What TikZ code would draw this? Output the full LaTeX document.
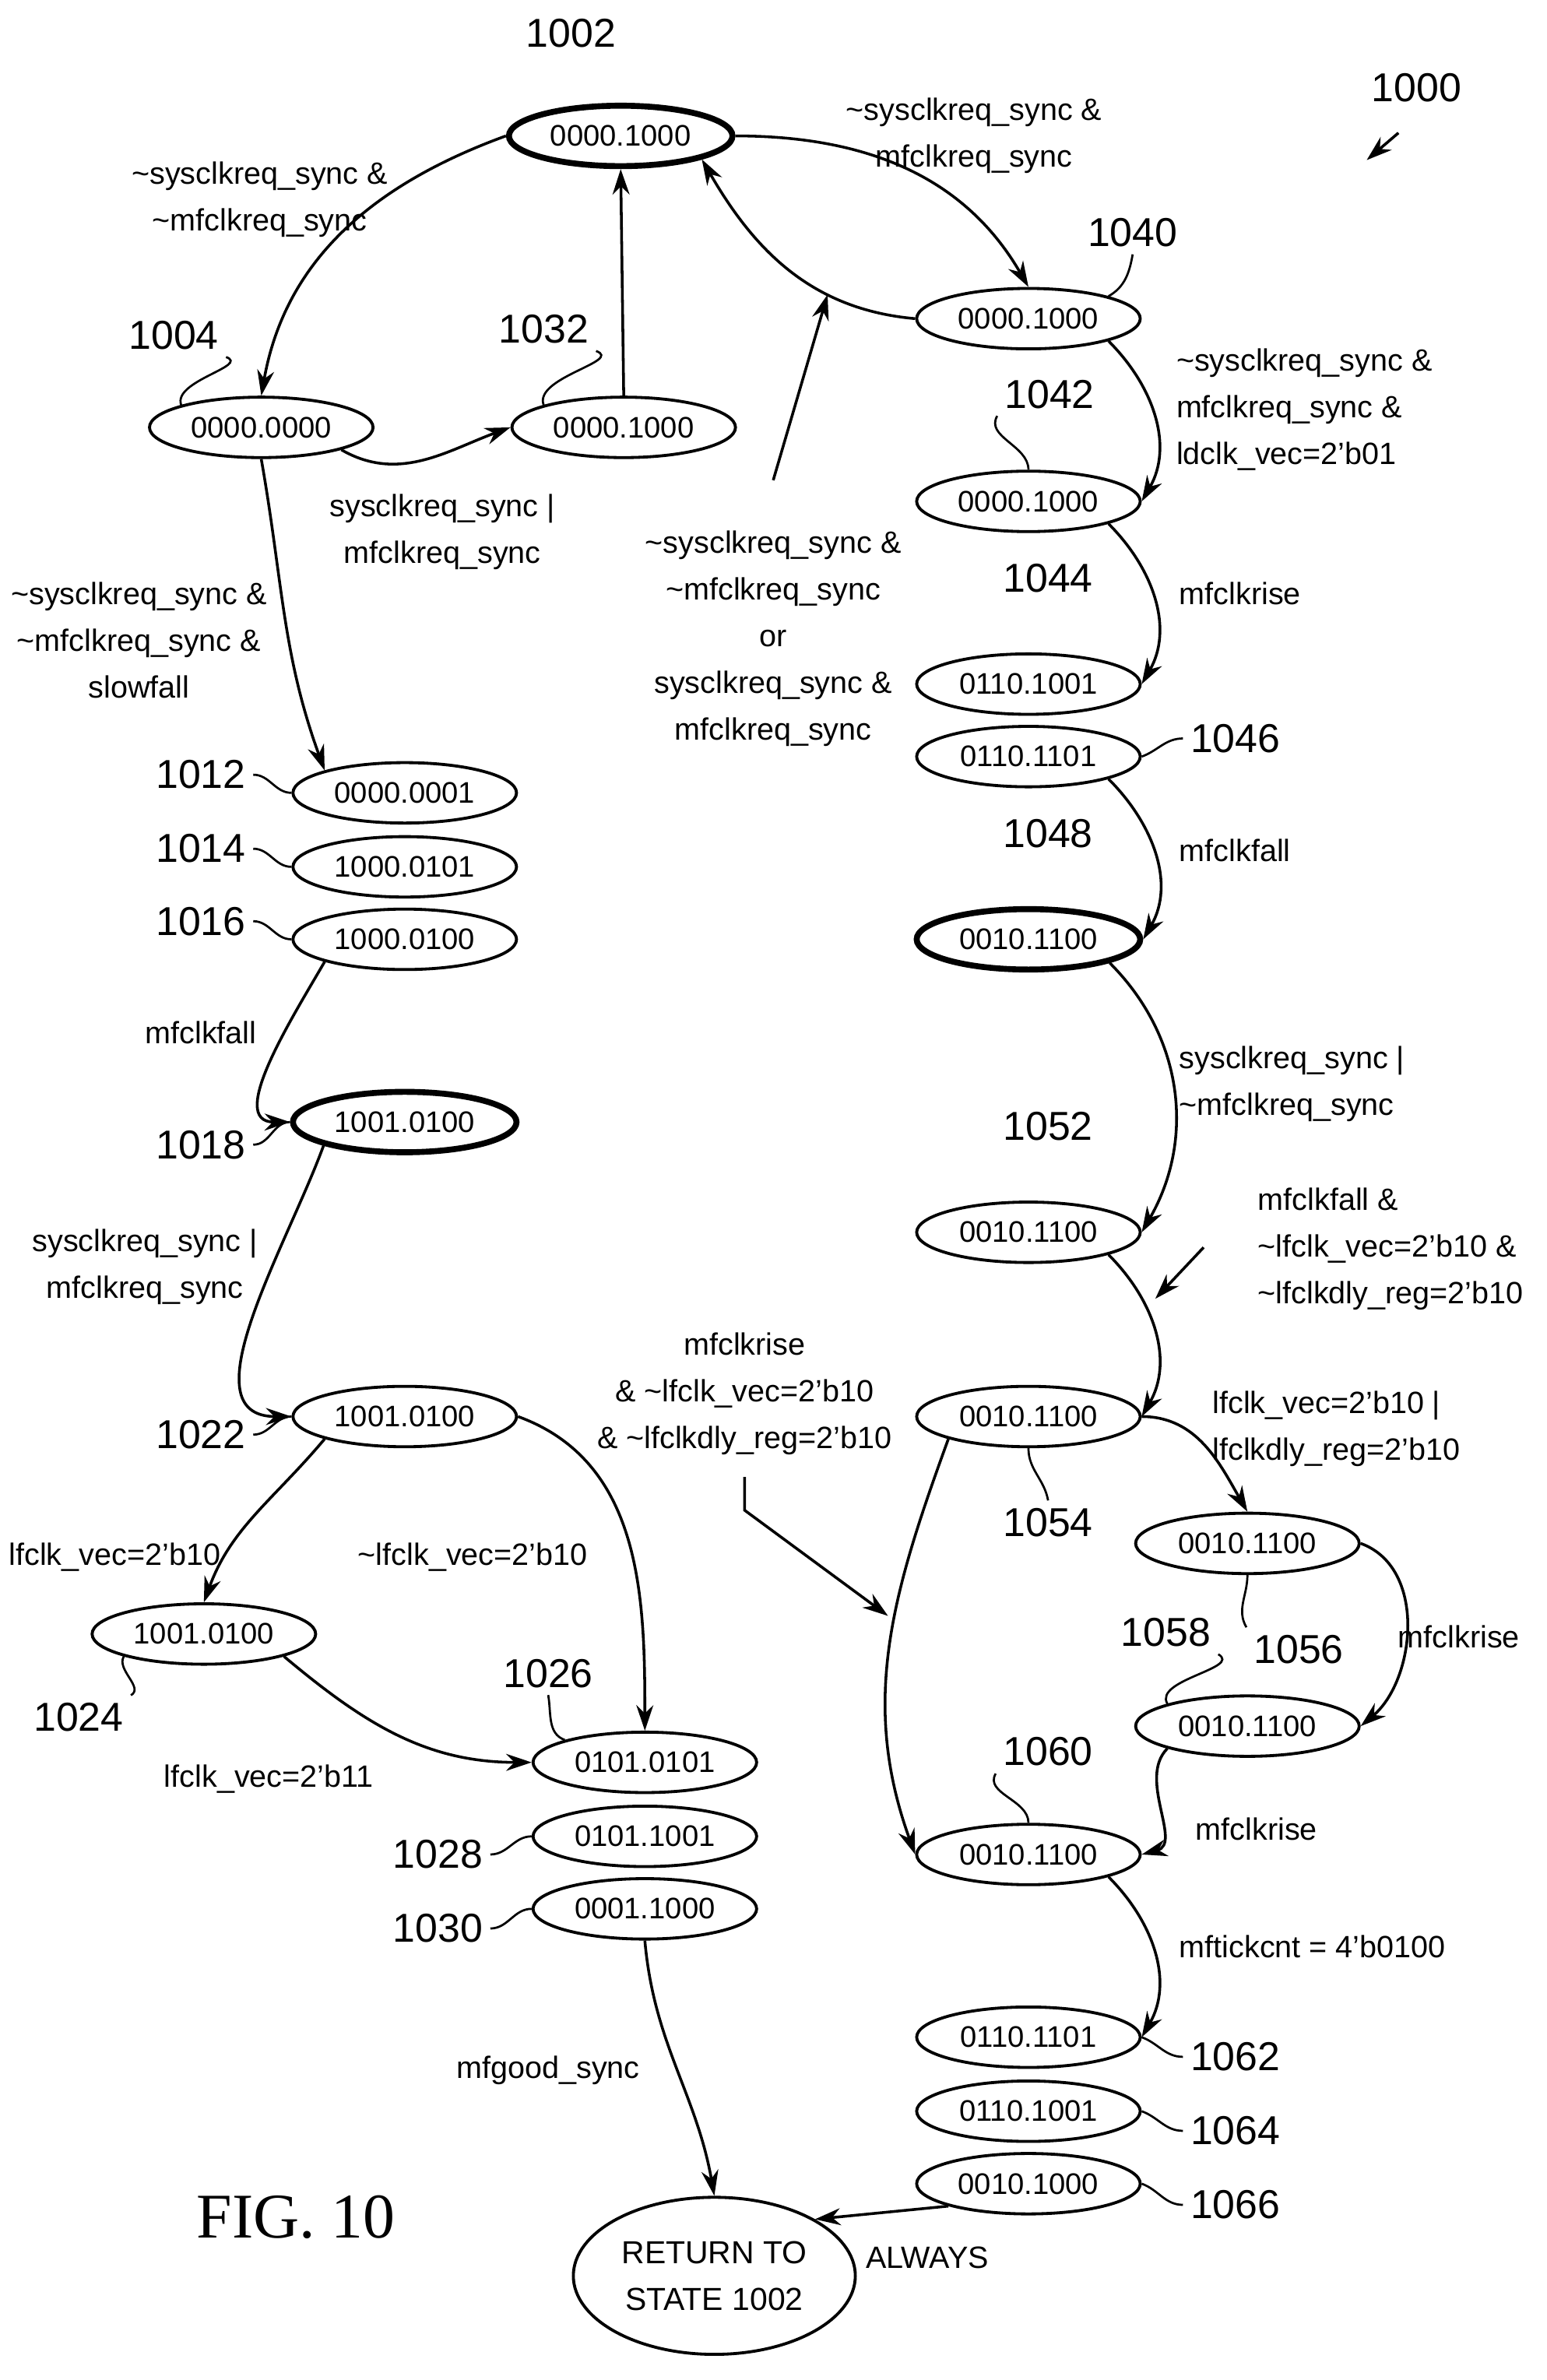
\documentclass[tikz,border=0pt]{standalone}
\usepackage{fontspec}
\setmainfont{Liberation Sans}
\newfontfamily\figfont{Liberation Serif}
\usetikzlibrary{shapes.geometric,arrows.meta}
\begin{document}
\begin{tikzpicture}[x=0.025cm,y=-0.025cm,
 st/.style={ellipse,draw,line width=1.4pt,minimum width=3.7cm,minimum height=1cm,inner sep=0pt,font=\fontsize{14}{14}\selectfont},
 thk/.style={line width=2.8pt},
 lb/.style={font=\fontsize{14.5}{22}\selectfont,align=center},
 ll/.style={font=\fontsize{14.5}{22}\selectfont,align=left,anchor=west},
 num/.style={font=\fontsize{19}{19}\selectfont},
 ar/.style={draw,line width=1.3pt,-{Stealth[length=12pt,width=8pt]}},
 ld/.style={draw,line width=1pt}]
\useasboundingbox (0,0) rectangle (1024,1576);
\node[st,thk] (n1002) at (411,90) {0000.1000};
\node[st] (n1004) at (173,283) {0000.0000};
\node[st] (n1032) at (413,283) {0000.1000};
\node[st] (n1040) at (681,211) {0000.1000};
\node[st] (n1042) at (681,332) {0000.1000};
\node[st] (n1044) at (681,453) {0110.1001};
\node[st] (n1046) at (681,501) {0110.1101};
\node[st,thk] (n1048) at (681,622) {0010.1100};
\node[st] (n1052) at (681,816) {0010.1100};
\node[st] (n1054) at (681,938) {0010.1100};
\node[st] (n1056) at (826,1022) {0010.1100};
\node[st] (n1058) at (826,1143) {0010.1100};
\node[st] (n1060) at (681,1228) {0010.1100};
\node[st] (n1062) at (681,1349) {0110.1101};
\node[st] (n1064) at (681,1398) {0110.1001};
\node[st] (n1066) at (681,1446) {0010.1000};
\node[st] (n1012) at (268,525) {0000.0001};
\node[st] (n1014) at (268,574) {1000.0101};
\node[st] (n1016) at (268,622) {1000.0100};
\node[st,thk] (n1018) at (268,743) {1001.0100};
\node[st] (n1022) at (268,938) {1001.0100};
\node[st] (n1024) at (135,1082) {1001.0100};
\node[st] (n1026) at (427,1167) {0101.0101};
\node[st] (n1028) at (427,1216) {0101.1001};
\node[st] (n1030) at (427,1264) {0001.1000};
\node[ellipse,draw,line width=1.4pt,minimum width=4.6cm,minimum height=2.6cm,align=center,font=\fontsize{15}{22}\selectfont] (ret) at (473,1507) {RETURN TO\\STATE 1002};
% edges
\draw[ar] (n1002.west) to[out=200,in=80] (n1004.north);
\draw[ar] (n1004.south east) to[out=-30,in=200] (n1032.west);
\draw[ar] (n1032.north) -- (n1002.south);
\draw[ar] (n1002.east) to[out=0,in=120] (n1040.north);
\draw[ar] (n1040.west) to[out=175,in=-60] (n1002.south east);
\coordinate (p1) at (512,318); \coordinate (p1e) at (548,195);
\draw[ar] (p1) -- (p1e);
\draw[ar] (n1040.south east) to[out=-45,in=60] (n1042.east);
\draw[ar] (n1042.south east) to[out=-45,in=60] (n1044.east);
\draw[ar] (n1046.south east) to[out=-45,in=60] (n1048.east);
\draw[ar] (n1048.south east) to[out=-45,in=60] (n1052.east);
\draw[ar] (n1052.south east) to[out=-45,in=60] (n1054.east);
\coordinate (p2) at (797,826); \coordinate (p2e) at (765,860);
\draw[ar] (p2) -- (p2e);
\draw[ar] (n1054.east) to[out=0,in=120] (n1056.north);
\draw[ar] (n1056.east) to[out=-20,in=40] (n1058.east);
\draw[ar] (n1058.south west) to[out=-135,in=15] (n1060.east);
\draw[ar] (n1054.south west) to[out=-110,in=110] (n1060.west);
\coordinate (p3) at (493,978); \coordinate (p3m) at (493,1000); \coordinate (p3e) at (588,1070);
\draw[ar] (p3) -- (p3m) -- (p3e);
\draw[ar] (n1060.south east) to[out=-45,in=60] (n1062.east);
\draw[ar] (n1066.south west) -- (ret.north east);
\draw[ar] (n1004.south) to[out=-80,in=110] (n1012.north west);
\draw[ar] (n1016.south west) to[out=-120,in=180] (n1018.west);
\draw[ar] (n1018.south west) to[out=-110,in=180] (n1022.west);
\draw[ar] (n1022.south west) to[out=-130,in=70] (n1024.north);
\draw[ar] (n1022.east) to[out=-20,in=90] (n1026.north);
\draw[ar] (n1024.south east) to[out=-40,in=180] (n1026.west);
\draw[ar] (n1030.south) to[out=-85,in=100] (ret.north);
% leaders
\node[num] (t1002) at (378,22) {1002};
\node[num] (t1004) at (115,222) {1004}; \draw[ld] (t1004.south east) to[out=-20,in=110] (n1004.north west);
\node[num] (t1032) at (360,218) {1032}; \draw[ld] (t1032.south east) to[out=-20,in=110] (n1032.north west);
\node[num] (t1040) at (750,154) {1040}; \draw[ld] (t1040.south) to[out=-100,in=30] (n1040.north east);
\node[num] (t1042) at (695,261) {1042}; \draw[ld] (t1042.south west) to[out=-120,in=90] (n1042.north);
\node[num] (t1044) at (694,383) {1044};
\node[num] (t1046) at (818,489) {1046}; \draw[ld] (t1046.west) to[out=180,in=20] (n1046.east);
\node[num] (t1048) at (694,552) {1048};
\node[num] (t1052) at (694,746) {1052};
\node[num] (t1054) at (694,1008) {1054}; \draw[ld] (t1054.north) to[out=100,in=-90] (n1054.south);
\node[num] (t1056) at (860,1092) {1056}; \draw[ld] (t1056.north west) to[out=120,in=-90] (n1056.south);
\node[num] (t1058) at (772,1081) {1058}; \draw[ld] (t1058.south east) to[out=-30,in=120] (n1058.north west);
\node[num] (t1060) at (694,1160) {1060}; \draw[ld] (t1060.south west) to[out=-120,in=90] (n1060.north);
\node[num] (t1062) at (818,1362) {1062}; \draw[ld] (t1062.west) to[out=180,in=-20] (n1062.east);
\node[num] (t1064) at (818,1411) {1064}; \draw[ld] (t1064.west) to[out=180,in=-20] (n1064.east);
\node[num] (t1066) at (818,1460) {1066}; \draw[ld] (t1066.west) to[out=180,in=-20] (n1066.east);
\node[num] (t1012) at (133,513) {1012}; \draw[ld] (t1012.east) to[out=0,in=180] (n1012.west);
\node[num] (t1014) at (133,562) {1014}; \draw[ld] (t1014.east) to[out=0,in=180] (n1014.west);
\node[num] (t1016) at (133,610) {1016}; \draw[ld] (t1016.east) to[out=0,in=180] (n1016.west);
\node[num] (t1018) at (133,758) {1018}; \draw[ld] (t1018.east) to[out=0,in=180] (n1018.west);
\node[num] (t1022) at (133,950) {1022}; \draw[ld] (t1022.east) to[out=0,in=180] (n1022.west);
\node[num] (t1024) at (52,1137) {1024}; \draw[ld] (t1024.north east) to[out=30,in=-120] (n1024.south west);
\node[num] (t1026) at (363,1108) {1026}; \draw[ld] (t1026.south) to[out=-80,in=160] (n1026.north west);
\node[num] (t1028) at (290,1228) {1028}; \draw[ld] (t1028.east) to[out=0,in=180] (n1028.west);
\node[num] (t1030) at (290,1277) {1030}; \draw[ld] (t1030.east) to[out=0,in=180] (n1030.west);
\node[num] (t1000) at (938,58) {1000};
\coordinate (s1000) at (926,88); \coordinate (a1000) at (905,106); \draw[ar] (s1000) -- (a1000);
% labels
\node[lb] (l1) at (172,132) {\textasciitilde sysclkreq\_sync \&\\\textasciitilde mfclkreq\_sync};
\node[lb] (l2) at (645,90) {\textasciitilde sysclkreq\_sync \&\\mfclkreq\_sync};
\node[ll] (l3) at (774,271) {\textasciitilde sysclkreq\_sync \&\\mfclkreq\_sync \&\\ldclk\_vec=2'b01};
\node[lb] (l4) at (293,352) {sysclkreq\_sync |\\mfclkreq\_sync};
\node[lb] (l5) at (92,424) {\textasciitilde sysclkreq\_sync \&\\\textasciitilde mfclkreq\_sync \&\\slowfall};
\node[lb] (l6) at (512,423) {\textasciitilde sysclkreq\_sync \&\\\textasciitilde mfclkreq\_sync\\or\\sysclkreq\_sync \&\\mfclkreq\_sync};
\node[ll] (l7) at (776,393) {mfclkrise};
\node[ll] (l8) at (776,563) {mfclkfall};
\node[ll] (l9) at (776,718) {sysclkreq\_sync |\\\textasciitilde mfclkreq\_sync};
\node[ll] (l10) at (828,827) {mfclkfall \&\\\textasciitilde lfclk\_vec=2'b10 \&\\\textasciitilde lfclkdly\_reg=2'b10};
\node[lb] (l11) at (493,923) {mfclkrise\\\& \textasciitilde lfclk\_vec=2'b10\\\& \textasciitilde lfclkdly\_reg=2'b10};
\node[ll] (l12) at (798,946) {lfclk\_vec=2'b10 |\\lfclkdly\_reg=2'b10};
\node[lb] (l13) at (966,1084) {mfclkrise};
\node[lb] (l14) at (832,1211) {mfclkrise};
\node[ll] (l15) at (776,1289) {mftickcnt = 4'b0100};
\node[lb] (l16) at (614,1495) {ALWAYS};
\node[lb] (l17) at (133,684) {mfclkfall};
\node[lb] (l18) at (96,839) {sysclkreq\_sync |\\mfclkreq\_sync};
\node[lb] (l19) at (76,1031) {lfclk\_vec=2'b10};
\node[lb] (l20) at (313,1031) {\textasciitilde lfclk\_vec=2'b10};
\node[lb] (l21) at (178,1178) {lfclk\_vec=2'b11};
\node[lb] (l22) at (363,1371) {mfgood\_sync};
\node[font=\figfont\fontsize{30}{30}\selectfont] (fig) at (196,1468) {FIG. 10};
\end{tikzpicture}
\end{document}
